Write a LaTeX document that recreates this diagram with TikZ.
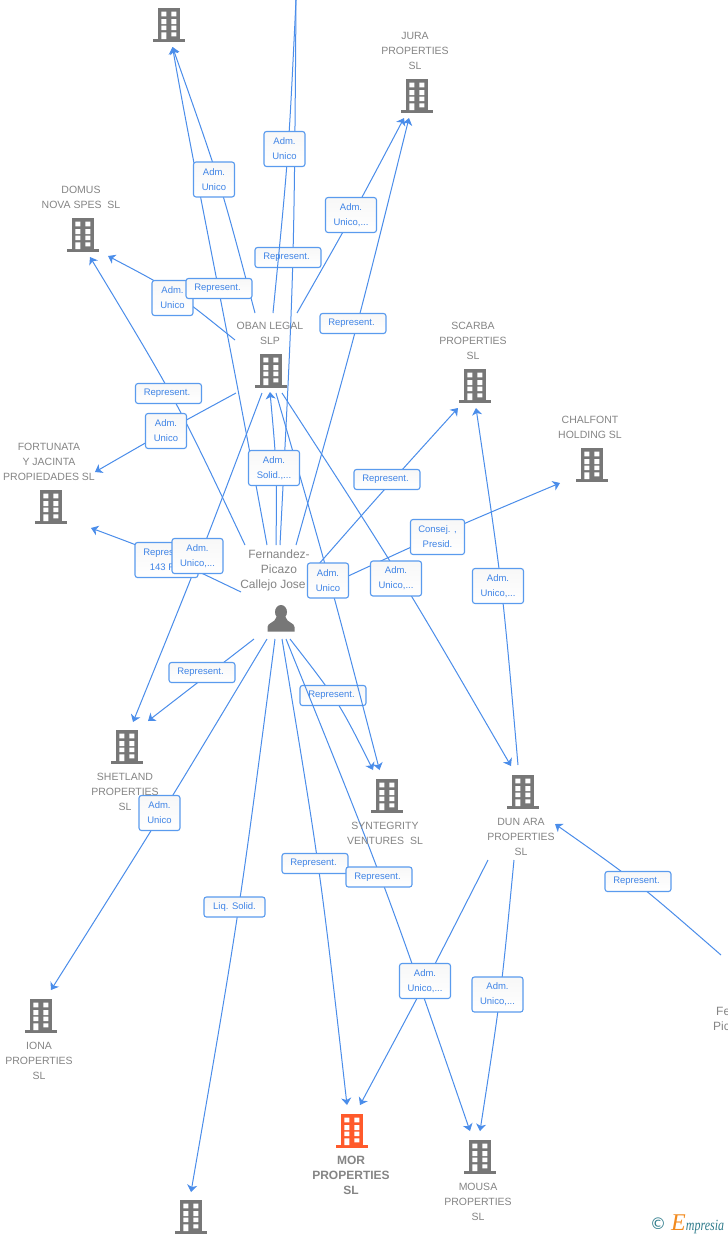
\documentclass[tikz,border=0pt]{standalone}
\usepackage{fontspec}
\setmainfont{Liberation Sans}
\newfontfamily\logofont{Liberation Serif}
\newfontfamily\symfont{DejaVu Sans}
\usetikzlibrary{arrows.meta,bending,calc}
\definecolor{linkblue}{HTML}{4A8DEA}
\definecolor{boxblue}{HTML}{5A9BEE}
\definecolor{txtblue}{HTML}{3F84E6}
\definecolor{labgray}{HTML}{858585}
\definecolor{icongray}{HTML}{777777}
\definecolor{iconorange}{HTML}{FF5A2B}
\definecolor{logoteal}{HTML}{2F7C8C}
\definecolor{logoorange}{HTML}{F28A1E}
\newcommand\Rpt{Represent.\hspace*{3pt}\null}
\tikzset{
  plain/.style={draw=linkblue,line width=1pt},
  link/.style={plain,-{Stealth[length=7pt,width=10pt,inset=2pt,flex=0.6]}},
  tag/.style={draw=boxblue,line width=1.1pt,rounded corners=2.5pt,top color=black!3,bottom color=white,
    text=txtblue,font=\fontsize{9.5}{15}\selectfont,align=center,inner sep=0pt,minimum height=#1},
  tag/.default=20pt,
  w/.style={minimum width=#1},
  ent/.style={text=labgray,font=\fontsize{10.5}{15}\selectfont,align=center,inner sep=0pt},
  anchorbox/.style={inner sep=0pt,minimum width=32pt,minimum height=34pt},
  pics/bldg/.style={code={
    \fill[#1] (-11,-17) rectangle (11,15);
    \fill[#1] (-16,14) rectangle (16,17);
    \fill[white] (-7.7,-13.3) rectangle (-2.7,-8.7) (2.3,-13.3) rectangle (7.3,-8.7)
      (-7.7,-6) rectangle (-2.7,-1) (2.3,-6) rectangle (7.3,-1)
      (-7.7,0.7) rectangle (-2.7,5) (2.3,0.7) rectangle (7.3,5)
      (-7.7,7.3) rectangle (-2.7,14) (2.3,7.3) rectangle (7.3,11.3);
  }},
  pics/personicon/.style={code={
    \fill[icongray] (0,-6) ellipse (6 and 7);
    \fill[icongray] (-13.5,13.5) -- (-13.5,9) .. controls (-13.5,4.5) and (-6,5) .. (-4.5,-1) -- (4.5,-1)
      .. controls (6,5) and (13.5,4.5) .. (13.5,9) -- (13.5,13.5) -- cycle;
  }}
}
\begin{document}
\begin{tikzpicture}[x=1pt,y=-1pt]
\useasboundingbox (0,0) rectangle (728,1235);
\fill[white] (0,0) rectangle (728,1235);

% entity anchors
\node[anchorbox] (top)  at (169,25) {};
\node[anchorbox] (jura) at (417,96) {};
\node[anchorbox] (domus) at (83,235) {};
\node[anchorbox] (oban) at (271,371) {};
\node[anchorbox] (scarba) at (475,386) {};
\node[anchorbox] (chalfont) at (592,465) {};
\node[anchorbox] (fortunata) at (51,507) {};
\node[anchorbox] (shetland) at (127,747) {};
\node[anchorbox] (syntegrity) at (387,796) {};
\node[anchorbox] (dunara) at (523,792) {};
\node[anchorbox] (iona) at (41,1016) {};
\node[anchorbox] (mor) at (352,1131) {};
\node[anchorbox] (mousa) at (480,1157) {};
\node[anchorbox] (bottom) at (191,1217) {};
\node[anchorbox] (person) at (281,618) {};

% connector ends
\coordinate (offtop) at (296,0);
\coordinate (offright) at (721,955);
\coordinate (pa) at (267,545); \coordinate (pb) at (280,545); \coordinate (pc) at (276,545);
\coordinate (pd) at (296,545); \coordinate (pe) at (245,545); \coordinate (pf) at (241,592);
\coordinate (pg) at (254,639); \coordinate (ph) at (267,639); \coordinate (pi) at (275,639);
\coordinate (pj) at (282,639); \coordinate (pk) at (286,639); \coordinate (pl) at (290,639);
\coordinate (pm) at (318,565); \coordinate (pn) at (318,590);
\coordinate (oa) at (255,313); \coordinate (ob) at (273,313); \coordinate (oc) at (297,313);
\coordinate (od) at (235,340); \coordinate (oe) at (236,393); \coordinate (of) at (262,393);
\coordinate (og) at (276,393); \coordinate (oh) at (282,393);
\coordinate (da) at (518,765); \coordinate (db) at (488,860); \coordinate (dc) at (514,860);
\coordinate (toptip) at (172.5,47);
\coordinate (jurat1) at (404,118); \coordinate (jurat2) at (409,118);
\coordinate (domt1) at (90,257); \coordinate (domt2) at (108,256);
\coordinate (obant) at (270,392);
\coordinate (fort1) at (95,472); \coordinate (fort2) at (91,528);
\coordinate (shet1) at (133,722); \coordinate (shet2) at (148,721);
\coordinate (ionat) at (51,990);
\coordinate (bott) at (191,1192);
\coordinate (mort1) at (347,1105); \coordinate (mort2) at (360,1105);
\coordinate (moust1) at (470,1131); \coordinate (moust2) at (480,1131);
\coordinate (synt1) at (373,770); \coordinate (synt2) at (379.5,770);
\coordinate (scart1) at (458,408); \coordinate (scart2) at (476,408);
\coordinate (chalt) at (560,483);
\coordinate (dunt1) at (511,766); \coordinate (dunt2) at (555,824);

% connectors that run under the two boxes crossed by later lines
\draw[plain] (pb) .. controls (294,272) .. (offtop);
\draw[link] (pl) .. controls (339,702) .. (synt1);
\node[tag,w=66pt] (r288) at (288,257.5) {\Rpt};
\node[tag,w=66pt] (r333) at (333,695.5) {\Rpt};

% remaining connectors
\draw[link] (pa) .. controls (226,320) and (192,160) .. (toptip);
\draw[link] (oa) .. controls (220,181) .. (toptip);
\draw[plain] (ob) .. controls (288.5,156) .. (offtop);
\draw[link] (pc) .. controls (277,469) .. (obant);
\draw[link] (oc) .. controls (352,216.5) .. (jurat1);
\draw[link] (pd) .. controls (356,332) .. (jurat2);
\draw[link] (pe) .. controls (177,401) .. (domt1);
\draw[link] (od) .. controls (173,290) .. (domt2);
\draw[link] (oe) .. controls (166,431) .. (fort1);
\draw[link] (pf) .. controls (166,556) .. (fort2);
\draw[link] (of) .. controls (200,557) .. (shet1);
\draw[link] (pg) -- (shet2);
\draw[link] (ph) .. controls (162,814) .. (ionat);
\draw[link] (pi) .. controls (239,915) .. (bott);
\draw[link] (pj) .. controls (320.5,871) .. (mort1);
\draw[link] (db) .. controls (426,982) .. (mort2);
\draw[link] (pk) .. controls (385,884) .. (moust1);
\draw[link] (dc) .. controls (501,995) .. (moust2);
\draw[link] (og) .. controls (330,580) .. (synt2);
\draw[link] (pm) .. controls (386,487.5) .. (scart1);
\draw[link] (da) .. controls (502.5,586) .. (scart2);
\draw[link] (pn) .. controls (439,534) .. (chalt);
\draw[link] (oh) .. controls (402,578) .. (dunt1);
\draw[link] (offright) .. controls (636,881) .. (dunt2);

% connector labels
\node[tag=35pt,w=41pt] (t1) at (214,179.5) {Adm.\\Unico};
\node[tag=35pt,w=41pt] (t2) at (284.5,149) {Adm.\\Unico};
\node[tag=35pt,w=51pt] (t3) at (351,215) {Adm.\\Unico,...};
\node[tag,w=66pt] (t4) at (353,323.5) {\Rpt};
\node[tag=35pt,w=41pt] (t5) at (172.5,298) {Adm.\\Unico};
\node[tag,w=66pt] (t6) at (219,288.5) {\Rpt};
\node[tag,w=66pt] (t7) at (168.5,393.5) {\Rpt};
\node[tag=35pt,w=41pt] (t8) at (166,431) {Adm.\\Unico};
\node[tag=35pt,w=51pt] (t9) at (274,468) {Adm.\\Solid.,...};
\node[tag,w=66pt] (t10) at (387,479.5) {\Rpt};
\node[tag=35pt,w=54pt] (t11) at (437.5,537) {Consej. ,\\Presid.};
\node[tag=35pt,w=41pt] (t12) at (328,580.5) {Adm.\\Unico};
\node[tag=35pt,w=51pt] (t13) at (396,578.5) {Adm.\\Unico,...};
\node[tag=35pt,w=51pt] (t14) at (498,586) {Adm.\\Unico,...};
\node[tag=35pt,w=63pt] (t15) at (166.5,560) {Represent.\\143 R...};
\node[tag=35pt,w=51pt] (t16) at (197.5,556) {Adm.\\Unico,...};
\node[tag,w=66pt] (t17) at (202,672.5) {\Rpt};
\node[tag=35pt,w=41pt] (t18) at (159.5,813) {Adm.\\Unico};
\node[tag,w=66pt] (t19) at (315,863.5) {\Rpt};
\node[tag,w=66pt] (t20) at (379,877) {\Rpt};
\node[tag,w=61pt] (t21) at (234.5,907) {Liq.  Solid.};
\node[tag=35pt,w=51pt] (t22) at (425,981) {Adm.\\Unico,...};
\node[tag=35pt,w=51pt] (t23) at (497.5,994.5) {Adm.\\Unico,...};
\node[tag,w=66pt] (t24) at (638,881.5) {\Rpt};

% icons
\foreach \n in {top,jura,domus,oban,scarba,chalfont,fortunata,shetland,syntegrity,dunara,iona,mousa,bottom}
  \pic at (\n) {bldg=icongray};
\pic at (mor) {bldg=iconorange};
\pic at (person) {personicon};

% entity labels
\node[ent] (ljura) at (415,51) {JURA\\PROPERTIES\\SL};
\node[ent] (ldomus) at (81,197.5) {DOMUS\\NOVA SPES\ \ SL};
\node[ent] (loban) at (270,333.5) {OBAN LEGAL\\SLP};
\node[ent] (lscarba) at (473,341) {SCARBA\\PROPERTIES\\SL};
\node[ent] (lchal) at (590,427.5) {CHALFONT\\HOLDING SL};
\node[ent] (lfort) at (49,462) {FORTUNATA\\Y JACINTA\\PROPIEDADES SL};
\node[ent] (lshet) at (125,792) {SHETLAND\\PROPERTIES\\SL};
\node[ent] (lsyn) at (385,833.5) {SYNTEGRITY\\VENTURES\ \ SL};
\node[ent] (ldun) at (521,837) {DUN ARA\\PROPERTIES\\SL};
\node[ent] (liona) at (39,1061) {IONA\\PROPERTIES\\SL};
\node[ent,font=\bfseries\fontsize{12}{15}\selectfont] (lmor) at (351,1175.5) {MOR\\PROPERTIES\\SL};
\node[ent] (lmousa) at (478,1202) {MOUSA\\PROPERTIES\\SL};
\node[ent,font=\fontsize{12}{15}\selectfont] (lperson) at (279,570.5) {Fernandez-\\Picazo\\Callejo Jose\hspace*{12pt}\null};
\node[ent,anchor=west,font=\fontsize{12}{15}\selectfont] (lfe) at (716,1011) {Fe};
\node[ent,anchor=west,font=\fontsize{12}{15}\selectfont] (lpic) at (713,1026) {Pic};

% logo
\node[inner sep=0pt,text=logoteal,font=\symfont\fontsize{16}{16}\selectfont] (copy) at (658,1224) {©};
\node[inner sep=0pt,anchor=west,font=\logofont\itshape\fontsize{12}{14}\selectfont] (logo) at (671,1224)
  {\textcolor{logoorange}{\fontsize{24}{14}\selectfont E}\textcolor{logoteal}{\scalebox{1}[1.3]{mpresia}}};
\end{tikzpicture}
\end{document}
